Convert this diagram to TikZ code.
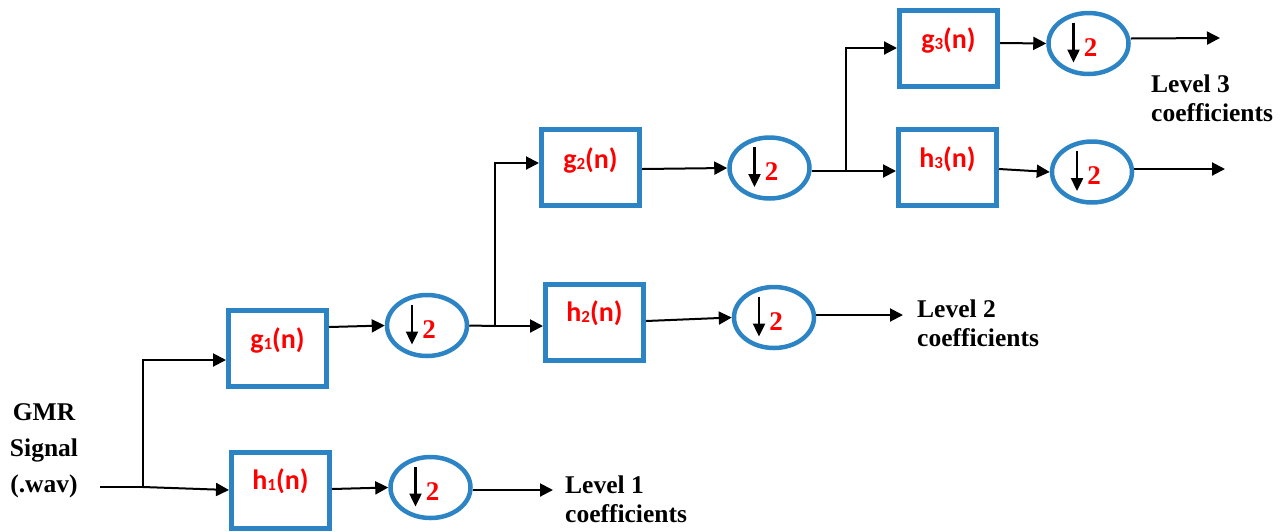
\documentclass[tikz,border=0pt]{standalone}
\usepackage{fontspec}
\setmainfont{Liberation Serif}
\newfontfamily\boxfont{Carlito}
\usetikzlibrary{shapes.geometric,arrows.meta}
\definecolor{boxblue}{RGB}{44,132,196}
\definecolor{lblred}{RGB}{255,0,0}
\tikzset{
  filt/.style={draw=boxblue, line width=5pt, rectangle, minimum width=98pt, minimum height=76pt, inner sep=0pt},
  dsmp/.style={draw=boxblue, line width=4.5pt, ellipse, minimum width=80pt, minimum height=61pt, inner sep=0pt},
  flab/.style={font=\boxfont\bfseries\fontsize{28}{28}\selectfont, text=lblred, inner sep=0pt},
  two/.style={font=\bfseries\fontsize{27}{27}\selectfont, text=lblred, inner sep=0pt},
  wire/.style={line width=2pt, black},
  arr/.style={wire, -{Triangle[length=13pt,width=13pt]}},
  dnarr/.style={line width=2.4pt, -{Triangle[length=13pt,width=12pt]}},
  coef/.style={font=\bfseries\fontsize{25.5}{29}\selectfont, align=left, anchor=north west, inner sep=0pt},
}
% filter label with a small subscript digit
\newcommand\filtlab[2]{#1\raisebox{-1pt}{\fontsize{17}{17}\selectfont #2}(n)}
% down-sampling symbol inside an ellipse
\newcommand\downby[1]{%
  \draw[dnarr] ([shift={(-15,-21)}]#1.center) -- ([shift={(-15,19)}]#1.center);
  \node[two] (#1-two) at ([shift={(2,4)}]#1.center) {2};}
\begin{document}
\begin{tikzpicture}[x=1pt, y=-1pt]
  \useasboundingbox (0,0) rectangle (1285,531);

  % filters
  \node[filt, label={[flab, yshift=8pt]center:\filtlab{g}{1}}] (g1) at (277.5,348) {};
  \node[filt, label={[flab, yshift=9pt]center:\filtlab{h}{1}}] (h1) at (280.5,490) {};
  \node[filt, label={[flab, yshift=7pt]center:\filtlab{g}{2}}] (g2) at (590.5,167) {};
  \node[filt, label={[flab, yshift=9pt]center:\filtlab{h}{2}}] (h2) at (594.5,322.5) {};
  \node[filt, label={[flab, yshift=8pt]center:\filtlab{g}{3}}] (g3) at (948.5,48) {};
  \node[filt, label={[flab, yshift=8pt]center:\filtlab{h}{3}}] (h3) at (947.5,167) {};

  % down-samplers
  \node[dsmp] (d1g) at (427,325.5) {};
  \node[dsmp] (d1h) at (430.5,487.5) {};
  \node[dsmp] (d2g) at (769.5,168) {};
  \node[dsmp] (d2h) at (774,317.5) {};
  \node[dsmp] (d3g) at (1088.5,43.5) {};
  \node[dsmp] (d3h) at (1092,172) {};
  \downby{d1g}\downby{d1h}\downby{d2g}\downby{d2h}\downby{d3g}\downby{d3h}

  % texts
  \node[font=\bfseries\fontsize{25.5}{36}\selectfont, align=center, inner sep=0pt] (sig) at (44,451) {GMR\\Signal\\(.wav)};
  \node[coef] (lv1) at (565,476) {Level 1\\coefficients};
  \node[coef] (lv2) at (917,300) {Level 2\\coefficients};
  \node[coef] (lv3) at (1151,75) {Level 3\\coefficients};

  % wiring coordinates
  \coordinate (in) at (100,487);
  \coordinate (j1) at (143,487);
  \coordinate (j2) at (495,326);
  \coordinate (j3) at (846,171);
  \coordinate (o1) at (553,490);
  \coordinate (o2) at (903,315);
  \coordinate (o3) at (1220,38);
  \coordinate (o4) at (1225,169);

  % level 1
  \draw[wire] (in) -- (j1);
  \draw[arr] (j1) -- (h1.west);
  \draw[arr] (j1) |- ([yshift=-12pt]g1.west);
  \draw[arr] ([yshift=21pt]g1.east) -- (d1g.west);
  \draw[arr] ([yshift=1pt]h1.east) -- (d1h.west);
  \draw[arr] ([yshift=-2.5pt]d1h.east) -- (o1);

  % level 2
  \draw[wire] (d1g.east) -- (j2);
  \draw[arr] (j2) -- (j2 -| h2.west);
  \draw[arr] (j2) |- ([yshift=4pt]g2.west);
  \draw[arr] ([yshift=-2pt]g2.east) -- (d2g.west);
  \draw[arr] ([yshift=1.5pt]h2.east) -- (d2h.west);
  \draw[arr] ([yshift=2.5pt]d2h.east) -- (o2);

  % level 3
  \draw[wire] ([yshift=-3pt]d2g.east) -- (j3);
  \draw[arr] (j3) -- (j3 -| h3.west);
  \draw[arr] (j3) |- (g3.west);
  \draw[arr] ([yshift=5pt]g3.east) -- (d3g.west);
  \draw[arr] ([yshift=5pt]d3g.east) -- (o3);
  \draw[arr] ([yshift=-2pt]h3.east) -- (d3h.west);
  \draw[arr] ([yshift=3pt]d3h.east) -- (o4);
\end{tikzpicture}
\end{document}
